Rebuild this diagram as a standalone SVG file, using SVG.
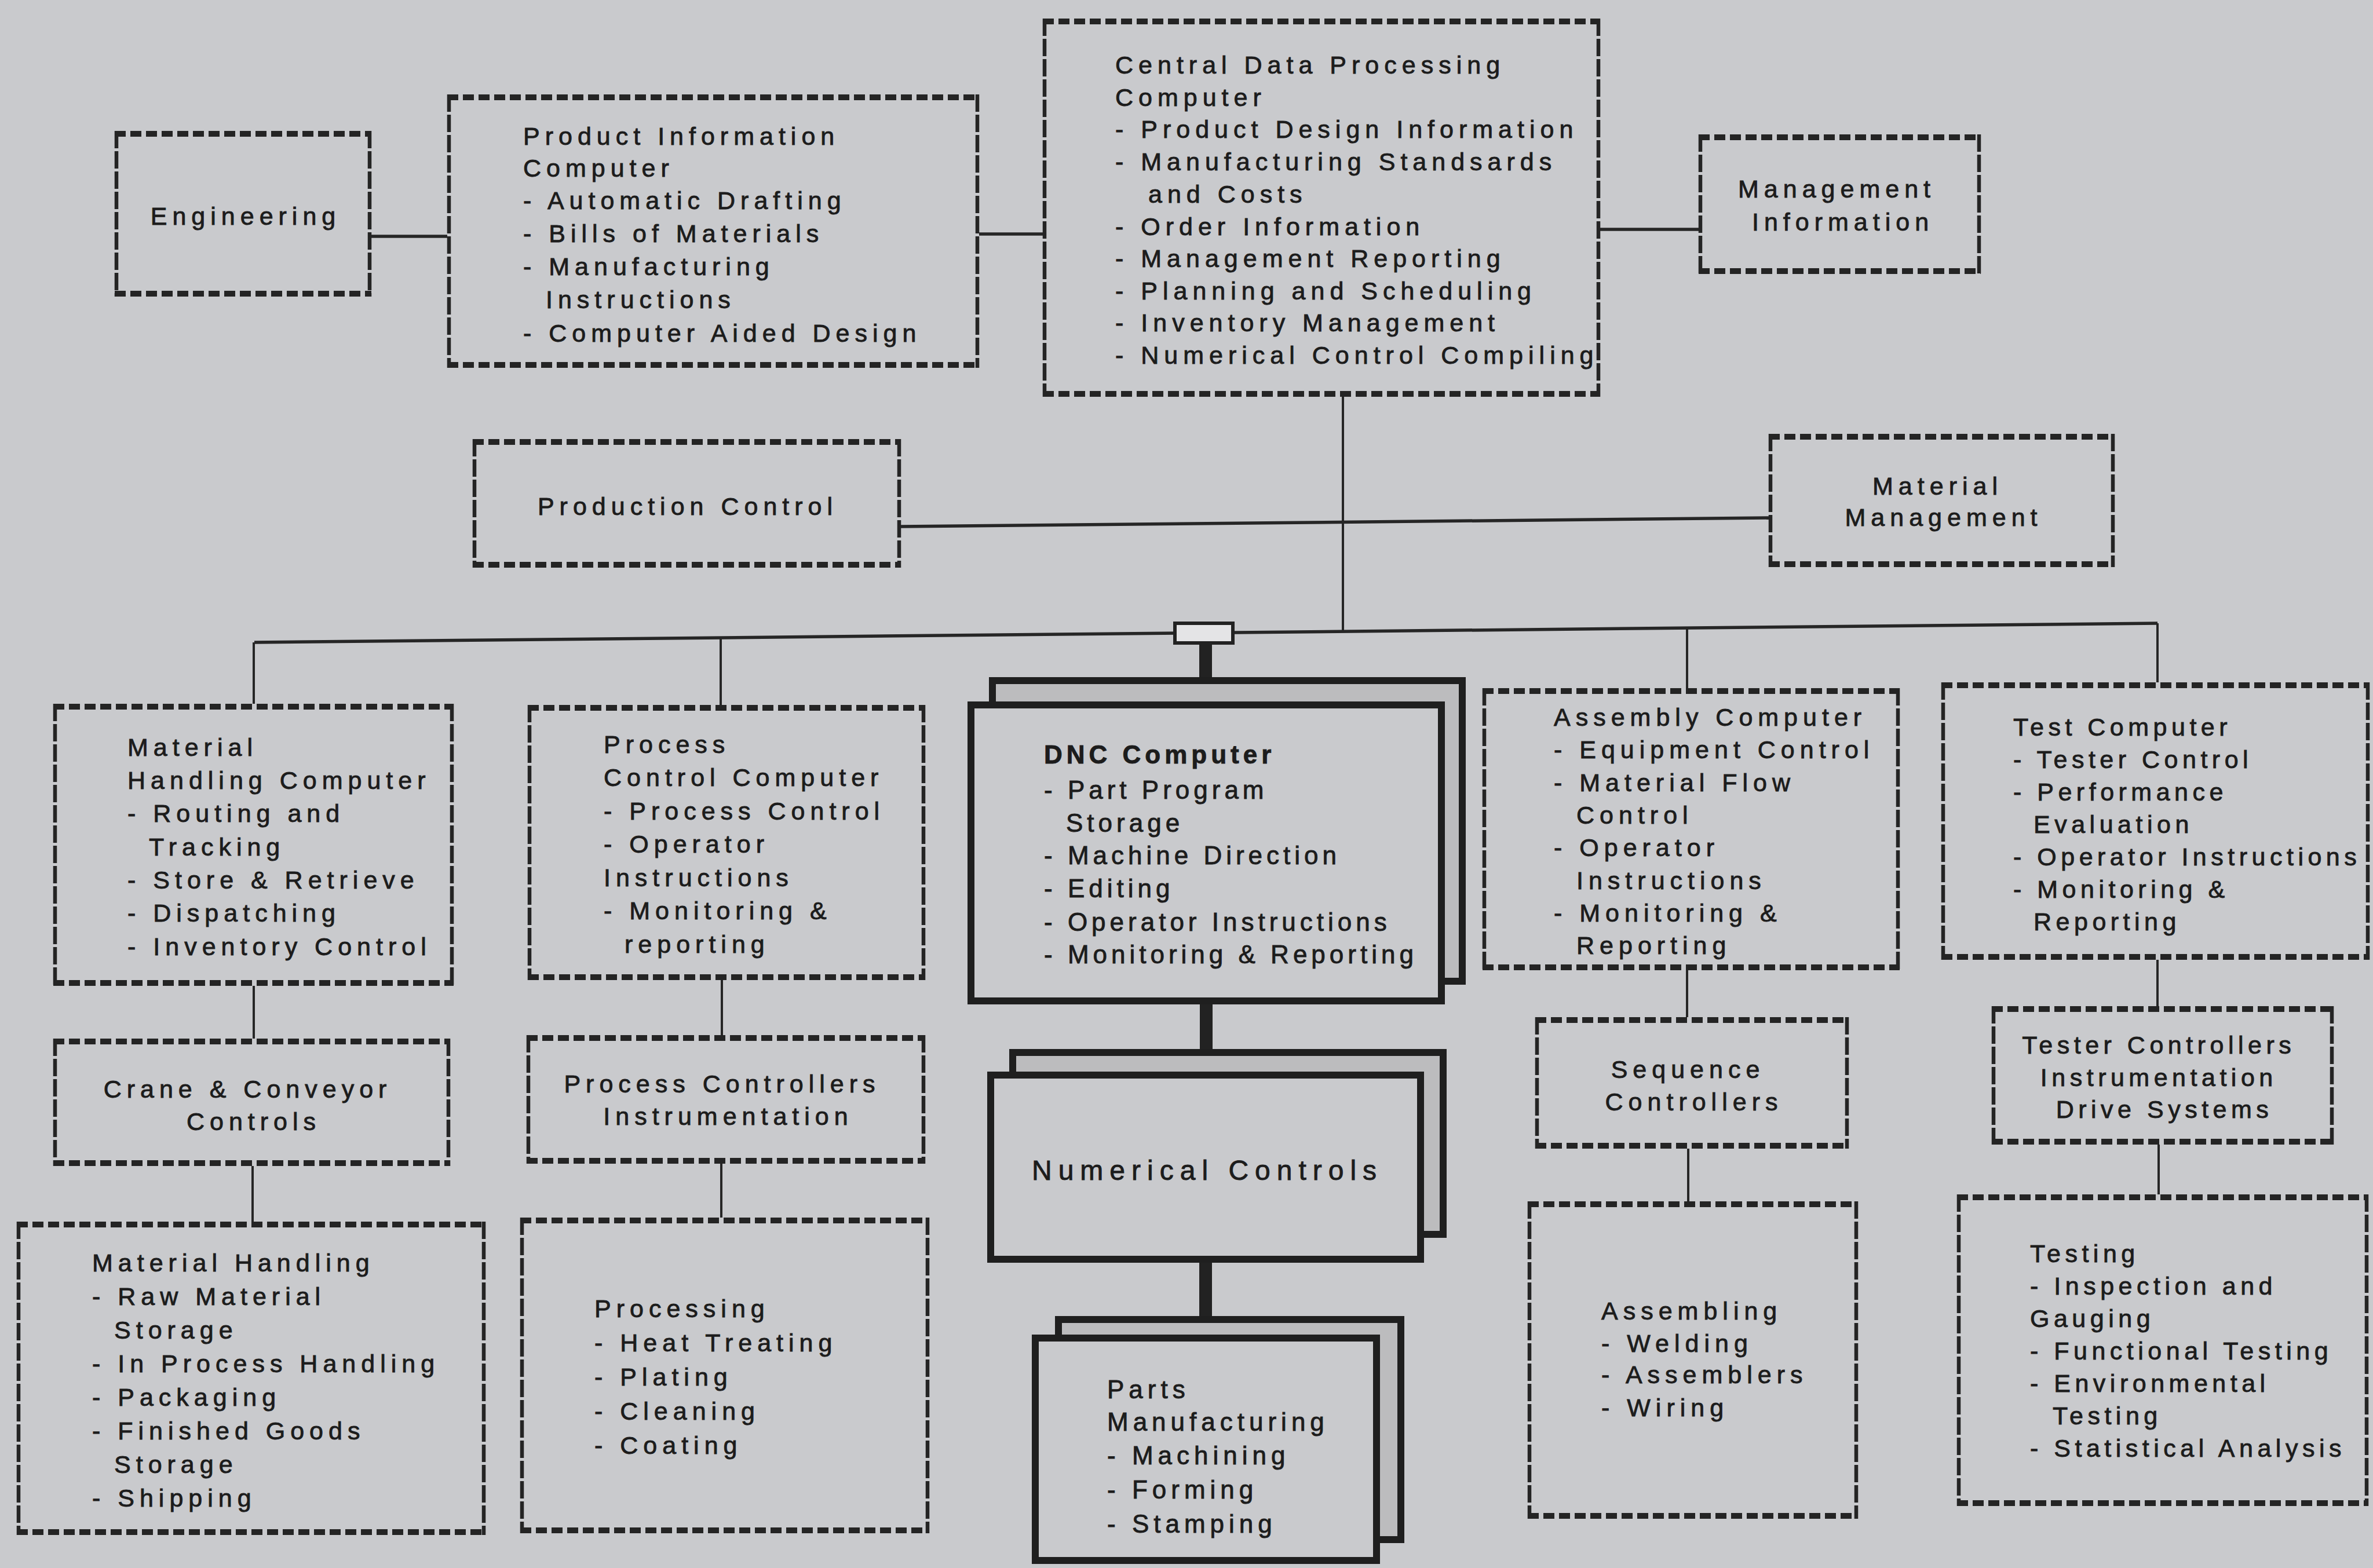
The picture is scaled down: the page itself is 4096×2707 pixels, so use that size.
<svg xmlns="http://www.w3.org/2000/svg" width="4096" height="2707" viewBox="0 0 4096 2707">
<style>
  .h { fill: none; stroke: #242424; stroke-width: 10; stroke-dasharray: 19 8; }
  .v { fill: none; stroke: #242424; stroke-width: 6.5; stroke-dasharray: 30 5; }
  .ln { fill: none; stroke: #262626; stroke-width: 4; }
  .lh { fill: none; stroke: #262626; stroke-width: 5.5; }
  .thick { fill: none; stroke: #222; stroke-width: 22; }
  .front { fill: #c9cacd; stroke: #1f1f1f; stroke-width: 12; }
  .back { fill: #bcbcbe; stroke: #1f1f1f; stroke-width: 12; }
  text { font-family: "Liberation Sans", Arial, sans-serif; font-size: 43px; letter-spacing: 9px; fill: #1c1c1c; stroke: #1c1c1c; stroke-width: 0.9; }
  .c { text-anchor: middle; }
  .t8 { letter-spacing: 7.5px; }
  .dnc { font-size: 44px; letter-spacing: 7px; }
  .b { font-weight: bold; }
  .nc { font-size: 48px; letter-spacing: 11px; }
  .parts { font-size: 44px; letter-spacing: 8px; }
</style>
<rect width="4096" height="2707" fill="#c9cacd"/>

<!-- connectors -->
<g id="connectors">
  <path class="lh" d="M641 408 H772"/>
  <path class="lh" d="M1690 404 H1800"/>
  <path class="lh" d="M2762 396 H2932"/>
  <path class="lh" d="M1555 909 L3053 894"/>
  <path class="ln" d="M2318 685 V1090"/>
  <path class="lh" d="M439 1109 L3724 1076"/>
  <path class="ln" d="M438 1109 V1215"/>
  <path class="ln" d="M1244 1101 V1217"/>
  <path class="ln" d="M2912 1084 V1188"/>
  <path class="ln" d="M3724 1076 V1178"/>
  <path class="ln" d="M438 1702 V1793"/>
  <path class="ln" d="M436 2013 V2109"/>
  <path class="ln" d="M1246 1692 V1787"/>
  <path class="ln" d="M1245 2009 V2102"/>
  <path class="ln" d="M2912 1675 V1756"/>
  <path class="ln" d="M2914 1983 V2074"/>
  <path class="ln" d="M3724 1657 V1737"/>
  <path class="ln" d="M3726 1976 V2062"/>
  <path class="thick" d="M2081 1108 V1175"/>
  <path class="thick" d="M2082 1734 V1817"/>
  <path class="thick" d="M2081 2180 V2278"/>
  <rect x="2028" y="1076" width="100" height="34" fill="#e4e4e6" stroke="#222" stroke-width="6"/>
</g>

<g id="engineering">
  <path class="h" d="M198 231 H641 M198 507 H641"/>
  <path class="v" d="M201 226 V512 M638 226 V512"/>
  <text class="c" x="424" y="388">Engineering</text>
</g>

<g id="product-information">
  <path class="h" d="M772 168 H1690 M772 630 H1690"/>
  <path class="v" d="M775 163 V635 M1687 163 V635"/>
  <text>
    <tspan x="903" y="250">Product Information</tspan>
    <tspan x="903" y="305">Computer</tspan>
    <tspan x="903" y="361">- Automatic Drafting</tspan>
    <tspan x="903" y="418">- Bills of Materials</tspan>
    <tspan x="903" y="475">- Manufacturing</tspan>
    <tspan x="942" y="532">Instructions</tspan>
    <tspan x="903" y="590">- Computer Aided Design</tspan>
  </text>
</g>

<g id="central-data-processing">
  <path class="h" d="M1800 37 H2762 M1800 680 H2762"/>
  <path class="v" d="M1803 32 V685 M2759 32 V685"/>
  <text>
    <tspan x="1925" y="127">Central Data Processing</tspan>
    <tspan x="1925" y="183">Computer</tspan>
    <tspan x="1925" y="238">- Product Design Information</tspan>
    <tspan x="1925" y="294">- Manufacturing Standsards</tspan>
    <tspan x="1982" y="350">and Costs</tspan>
    <tspan x="1925" y="406">- Order Information</tspan>
    <tspan x="1925" y="461">- Management Reporting</tspan>
    <tspan x="1925" y="517">- Planning and Scheduling</tspan>
    <tspan x="1925" y="572">- Inventory Management</tspan>
    <tspan x="1925" y="628">- Numerical Control Compiling</tspan>
  </text>
</g>

<g id="management-information">
  <path class="h" d="M2932 237 H3419 M2932 468 H3419"/>
  <path class="v" d="M2935 232 V473 M3416 232 V473"/>
  <text class="c">
    <tspan x="3181" y="341">Management</tspan>
    <tspan x="3181" y="398">Information</tspan>
  </text>
</g>

<g id="production-control">
  <path class="h" d="M816 763 H1555 M816 975 H1555"/>
  <path class="v" d="M819 758 V980 M1552 758 V980"/>
  <text class="c" x="1187" y="889">Production Control</text>
</g>

<g id="material-management">
  <path class="h" d="M3053 754 H3650 M3053 974 H3650"/>
  <path class="v" d="M3056 749 V979 M3647 749 V979"/>
  <text class="c">
    <tspan x="3355" y="854">Material</tspan>
    <tspan x="3355" y="908">Management</tspan>
  </text>
</g>

<g id="material-handling-computer">
  <path class="h" d="M92 1220 H783 M92 1697 H783"/>
  <path class="v" d="M95 1215 V1702 M780 1215 V1702"/>
  <text>
    <tspan x="220" y="1305">Material</tspan>
    <tspan x="220" y="1362">Handling Computer</tspan>
    <tspan x="220" y="1419">- Routing and</tspan>
    <tspan x="257" y="1477">Tracking</tspan>
    <tspan x="220" y="1534">- Store &amp; Retrieve</tspan>
    <tspan x="220" y="1591">- Dispatching</tspan>
    <tspan x="220" y="1649">- Inventory Control</tspan>
  </text>
</g>

<g id="process-control-computer">
  <path class="h" d="M911 1222 H1597 M911 1687 H1597"/>
  <path class="v" d="M914 1217 V1692 M1594 1217 V1692"/>
  <text>
    <tspan x="1042" y="1300">Process</tspan>
    <tspan x="1042" y="1357">Control Computer</tspan>
    <tspan x="1042" y="1415">- Process Control</tspan>
    <tspan x="1042" y="1472">- Operator</tspan>
    <tspan x="1042" y="1530">Instructions</tspan>
    <tspan x="1042" y="1587">- Monitoring &amp;</tspan>
    <tspan x="1078" y="1645">reporting</tspan>
  </text>
</g>

<g id="dnc-computer">
  <rect class="back" x="1713" y="1175" width="811" height="519"/>
  <rect class="front" x="1676" y="1217" width="812" height="511"/>
  <text class="dnc">
    <tspan x="1802" y="1318" class="b">DNC Computer</tspan>
    <tspan x="1802" y="1379">- Part Program</tspan>
    <tspan x="1840" y="1436">Storage</tspan>
    <tspan x="1802" y="1492">- Machine Direction</tspan>
    <tspan x="1802" y="1549">- Editing</tspan>
    <tspan x="1802" y="1607">- Operator Instructions</tspan>
    <tspan x="1802" y="1663">- Monitoring &amp; Reporting</tspan>
  </text>
</g>

<g id="numerical-controls">
  <rect class="back" x="1748" y="1817" width="743" height="314"/>
  <rect class="front" x="1710" y="1856" width="742" height="318"/>
  <text class="nc" x="1781" y="2037">Numerical Controls</text>
</g>

<g id="parts-manufacturing">
  <rect class="back" x="1827" y="2278" width="591" height="380"/>
  <rect class="front" x="1787" y="2310" width="589" height="384"/>
  <text class="parts">
    <tspan x="1911" y="2414">Parts</tspan>
    <tspan x="1911" y="2470">Manufacturing</tspan>
    <tspan x="1911" y="2528">- Machining</tspan>
    <tspan x="1911" y="2587">- Forming</tspan>
    <tspan x="1911" y="2646">- Stamping</tspan>
  </text>
</g>

<g id="assembly-computer">
  <path class="h" d="M2559 1193 H3279 M2559 1670 H3279"/>
  <path class="v" d="M2562 1188 V1675 M3276 1188 V1675"/>
  <text>
    <tspan x="2682" y="1253">Assembly Computer</tspan>
    <tspan x="2682" y="1309">- Equipment Control</tspan>
    <tspan x="2682" y="1366">- Material Flow</tspan>
    <tspan x="2721" y="1422">Control</tspan>
    <tspan x="2682" y="1478">- Operator</tspan>
    <tspan x="2721" y="1535">Instructions</tspan>
    <tspan x="2682" y="1591">- Monitoring &amp;</tspan>
    <tspan x="2721" y="1647">Reporting</tspan>
  </text>
</g>

<g id="test-computer">
  <path class="h" d="M3351 1183 H4090 M3351 1652 H4090"/>
  <path class="v" d="M3354 1178 V1657 M4087 1178 V1657"/>
  <text class="t8">
    <tspan x="3475" y="1270">Test Computer</tspan>
    <tspan x="3475" y="1326">- Tester Control</tspan>
    <tspan x="3475" y="1382">- Performance</tspan>
    <tspan x="3510" y="1438">Evaluation</tspan>
    <tspan x="3475" y="1494">- Operator  Instructions</tspan>
    <tspan x="3475" y="1550">- Monitoring &amp;</tspan>
    <tspan x="3510" y="1606">Reporting</tspan>
  </text>
</g>

<g id="crane-conveyor-controls">
  <path class="h" d="M92 1798 H777 M92 2008 H777"/>
  <path class="v" d="M95 1793 V2013 M774 1793 V2013"/>
  <text class="c">
    <tspan x="438" y="1895">Crane &amp; Conveyor</tspan>
    <tspan x="438" y="1951">Controls</tspan>
  </text>
</g>

<g id="material-handling">
  <path class="h" d="M29 2114 H838 M29 2645 H838"/>
  <path class="v" d="M32 2109 V2650 M835 2109 V2650"/>
  <text>
    <tspan x="159" y="2195">Material Handling</tspan>
    <tspan x="159" y="2253">- Raw Material</tspan>
    <tspan x="197" y="2311">Storage</tspan>
    <tspan x="159" y="2369">- In Process Handling</tspan>
    <tspan x="159" y="2427">- Packaging</tspan>
    <tspan x="159" y="2485">- Finished Goods</tspan>
    <tspan x="197" y="2543">Storage</tspan>
    <tspan x="159" y="2601">- Shipping</tspan>
  </text>
</g>

<g id="process-controllers">
  <path class="h" d="M909 1792 H1597 M909 2004 H1597"/>
  <path class="v" d="M912 1787 V2009 M1594 1787 V2009"/>
  <text class="c">
    <tspan x="1257" y="1886">Process Controllers</tspan>
    <tspan x="1257" y="1942">Instrumentation</tspan>
  </text>
</g>

<g id="processing">
  <path class="h" d="M898 2107 H1604 M898 2642 H1604"/>
  <path class="v" d="M901 2102 V2647 M1601 2102 V2647"/>
  <text>
    <tspan x="1026" y="2274">Processing</tspan>
    <tspan x="1026" y="2333">- Heat Treating</tspan>
    <tspan x="1026" y="2392">- Plating</tspan>
    <tspan x="1026" y="2451">- Cleaning</tspan>
    <tspan x="1026" y="2510">- Coating</tspan>
  </text>
</g>

<g id="sequence-controllers">
  <path class="h" d="M2650 1761 H3191 M2650 1978 H3191"/>
  <path class="v" d="M2653 1756 V1983 M3188 1756 V1983"/>
  <text class="c">
    <tspan x="2924" y="1861">Sequence</tspan>
    <tspan x="2924" y="1917">Controllers</tspan>
  </text>
</g>

<g id="assembling">
  <path class="h" d="M2637 2079 H3207 M2637 2617 H3207"/>
  <path class="v" d="M2640 2074 V2622 M3204 2074 V2622"/>
  <text>
    <tspan x="2764" y="2278">Assembling</tspan>
    <tspan x="2764" y="2334">- Welding</tspan>
    <tspan x="2764" y="2388">- Assemblers</tspan>
    <tspan x="2764" y="2445">- Wiring</tspan>
  </text>
</g>

<g id="tester-controllers">
  <path class="h" d="M3438 1742 H4028 M3438 1971 H4028"/>
  <path class="v" d="M3441 1737 V1976 M4025 1737 V1976"/>
  <text class="c t8">
    <tspan x="3736" y="1819">Tester Controllers</tspan>
    <tspan x="3736" y="1875">Instrumentation</tspan>
    <tspan x="3736" y="1930">Drive Systems</tspan>
  </text>
</g>

<g id="testing">
  <path class="h" d="M3378 2067 H4088 M3378 2595 H4088"/>
  <path class="v" d="M3381 2062 V2600 M4085 2062 V2600"/>
  <text class="t8">
    <tspan x="3504" y="2179">Testing</tspan>
    <tspan x="3504" y="2235">- Inspection and</tspan>
    <tspan x="3504" y="2291">Gauging</tspan>
    <tspan x="3504" y="2347">- Functional Testing</tspan>
    <tspan x="3504" y="2403">- Environmental</tspan>
    <tspan x="3543" y="2459">Testing</tspan>
    <tspan x="3504" y="2515">- Statistical Analysis</tspan>
  </text>
</g>
</svg>
